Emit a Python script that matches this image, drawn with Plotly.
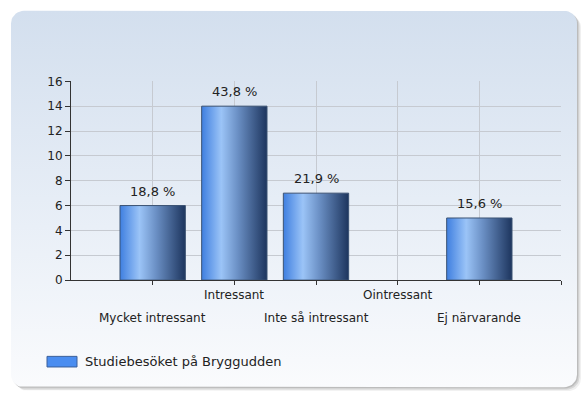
import numpy as np
import plotly.graph_objects as go

# data
categories = ["Mycket intressant", "Intressant", "Inte så intressant", "Ointressant", "Ej närvarande"]
counts = [6, 14, 7, 0, 5]
pct_labels = ["18,8 %", "43,8 %", "21,9 %", "", "15,6 %"]
series_name = "Studiebesöket på Bryggudden"
y_ticks = [0, 2, 4, 6, 8, 10, 12, 14, 16]

W, H = 585, 401
FONT = "DejaVu Sans"
TEXT = "#222222"
bar_scale = [[0, "#3f7fe0"], [0.3, "#9bc4f7"], [0.55, "#6b90c5"], [1, "#1d355e"]]


def rounded_rect(x0, y0, x1, y1, r, n=10):
    # pixel coords, y pointing down
    xs, ys = [], []
    corners = [(x0 + r, y0 + r, 180, 270), (x1 - r, y0 + r, 270, 360),
               (x1 - r, y1 - r, 0, 90), (x0 + r, y1 - r, 90, 180)]
    for cx, cy, a0, a1 in corners:
        t = np.radians(np.linspace(a0, a1, n))
        xs += list(cx + r * np.cos(t))
        ys += list(cy + r * np.sin(t))
    return xs + xs[:1], ys + ys[:1]


fig = go.Figure()

# panel shadow + gradient panel (background axes in pixels)
for off, col in [(4, "rgba(0,0,0,0.06)"), (2.5, "rgba(0,0,0,0.10)"), (1.2, "rgba(0,0,0,0.12)")]:
    sx, sy = rounded_rect(11 + off, 4 + off, 577 + off, 394 + off, 13)
    fig.add_trace(go.Scatter(x=sx, y=sy, fill="toself", fillcolor=col, mode="lines",
                             line=dict(width=0), xaxis="x", yaxis="y",
                             showlegend=False, hoverinfo="skip"))
px_, py_ = rounded_rect(11, 4, 577, 394, 13)
fig.add_trace(go.Scatter(x=px_, y=py_, fill="toself", mode="lines",
                         fillgradient=dict(type="vertical",
                                           colorscale=[[0, "#fafbfd"], [0.5, "#e6edf6"], [1, "#d3dfee"]]),
                         line=dict(width=0), xaxis="x", yaxis="y",
                         showlegend=False, hoverinfo="skip"))

# bars with horizontal gradient
for i, v in enumerate(counts):
    if v == 0:
        continue
    c = i + 1
    fig.add_trace(go.Scatter(
        x=[c - 0.4, c + 0.4, c + 0.4, c - 0.4, c - 0.4], y=[0, 0, v, v, 0],
        fill="toself", mode="lines",
        fillgradient=dict(type="horizontal", colorscale=bar_scale),
        line=dict(color="#3b5273", width=1),
        xaxis="x2", yaxis="y2", showlegend=False, hoverinfo="skip"))

annotations = []
for i, (v, lab) in enumerate(zip(counts, pct_labels)):
    if lab:
        annotations.append(dict(x=i + 1, y=v, xref="x2", yref="y2", text=lab,
                                showarrow=False, yanchor="bottom", yshift=5,
                                font=dict(family=FONT, size=13, color=TEXT)))
for i, cat in enumerate(categories):
    annotations.append(dict(x=i + 1, y=298 if i % 2 else 322, xref="x2", yref="y",
                            text=cat, showarrow=False, yanchor="middle",
                            font=dict(family=FONT, size=12, color=TEXT)))
annotations.append(dict(x=83, y=367.5, xref="x", yref="y", text=series_name,
                        showarrow=False, xanchor="left", yanchor="middle",
                        font=dict(family=FONT, size=13, color=TEXT)))

fig.update_layout(
    width=W, height=H,
    margin=dict(l=0, r=0, t=0, b=0),
    paper_bgcolor="white", plot_bgcolor="rgba(0,0,0,0)",
    showlegend=False,
    xaxis=dict(domain=[0, 1], range=[0, W], visible=False, fixedrange=True),
    yaxis=dict(domain=[0, 1], range=[H, 0], visible=False, fixedrange=True),
    xaxis2=dict(domain=[71 / W, 561 / W], range=[0, 6], anchor="y2",
                tickvals=[1, 2, 3, 4, 5, 6], showticklabels=False,
                ticks="outside", ticklen=4, tickcolor="#333",
                showgrid=True, gridcolor="#c6cad1", zeroline=False,
                showline=True, linecolor="#333", linewidth=1),
    yaxis2=dict(domain=[(H - 283) / H, (H - 77) / H], range=[0, 16], anchor="x2",
                tickvals=y_ticks, ticks="outside", ticklen=5, tickcolor="#333",
                showgrid=True, gridcolor="#c6cad1", zeroline=False,
                showline=True, linecolor="#333", linewidth=1,
                tickfont=dict(family=FONT, size=12, color=TEXT)),
    shapes=[dict(type="rect", xref="x", yref="y", x0=47, x1=77, y0=362, y1=373,
                 fillcolor="#4a8df0", line=dict(color="#3a5f9a", width=1), layer="above")],
    annotations=annotations,
)

fig.write_html("out.html", config={"displayModeBar": False},
               post_script="document.body.style.margin='0';")
